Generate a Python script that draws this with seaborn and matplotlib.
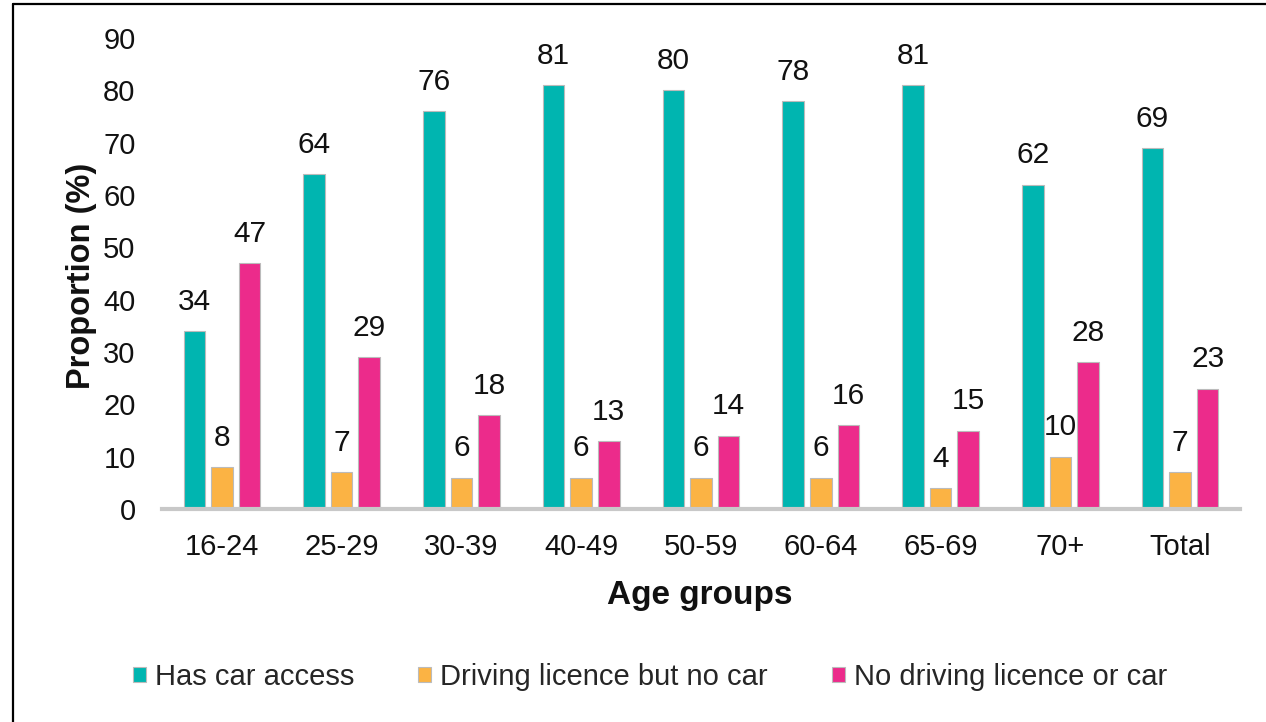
import matplotlib
matplotlib.use("Agg")
import matplotlib.pyplot as plt
import seaborn as sns
import pandas as pd
from matplotlib.patches import Patch
from matplotlib.lines import Line2D

age_groups = ["16-24", "25-29", "30-39", "40-49", "50-59", "60-64", "65-69", "70+", "Total"]
series_names = ["Has car access", "Driving licence but no car", "No driving licence or car"]
has_car = [34, 64, 76, 81, 80, 78, 81, 62, 69]
licence_no_car = [8, 7, 6, 6, 6, 6, 4, 10, 7]
no_licence_no_car = [47, 29, 18, 13, 14, 16, 15, 28, 23]
y_ticks = [0, 10, 20, 30, 40, 50, 60, 70, 80, 90]

colors = ["#00B5B0", "#FBB344", "#EC2B8B"]

rows = []
for name, vals in zip(series_names, [has_car, licence_no_car, no_licence_no_car]):
    for g, v in zip(age_groups, vals):
        rows.append({"Age group": g, "Series": name, "Value": v})
df = pd.DataFrame(rows)

sns.set_theme(style="white")
plt.rcParams["font.family"] = ["Liberation Sans", "DejaVu Sans"]

W, H = 1266, 722
fig = plt.figure(figsize=(W / 100, H / 100), dpi=100)
ax = fig.add_axes([162 / W, 1 - 509 / H, (1240 - 162) / W, (509 - 38) / H])

sns.barplot(data=df, x="Age group", y="Value", hue="Series", order=age_groups,
            hue_order=series_names, palette=colors, saturation=1, width=0.69, gap=0.22,
            edgecolor="#BBBBBB", linewidth=0.8, legend=False, ax=ax)

for container in ax.containers:
    ax.bar_label(container, fmt="%g", padding=11, fontsize=21.5, color="#111111")

ax.set_ylim(0, 90)
ax.set_xlim(-0.5, len(age_groups) - 0.5)
ax.set_yticks(y_ticks)
ax.tick_params(axis="y", labelsize=21, pad=19, length=0, colors="#111111")
ax.tick_params(axis="x", labelsize=21, pad=17, length=0, colors="#111111")
for s in ["top", "right", "left"]:
    ax.spines[s].set_visible(False)
ax.spines["bottom"].set_color("#C8C8C8")
ax.spines["bottom"].set_linewidth(3)
ax.set_facecolor("none")

ax.set_ylabel("Proportion (%)", fontsize=23.5, fontweight="bold", color="#111111")
ax.set_xlabel("Age groups", fontsize=24, fontweight="bold", color="#111111")
ax.yaxis.set_label_coords(-0.06, 0.496)
ax.xaxis.set_label_coords(0.499, -0.15)

handles = [Patch(facecolor=c, edgecolor="#BBBBBB", linewidth=0.8) for c in colors]
fig.legend(handles, series_names, loc="center", bbox_to_anchor=(650 / W, 1 - 677 / H),
           ncol=3, frameon=False, fontsize=21, handlelength=0.45, handleheight=0.45,
           handletextpad=0.3, columnspacing=2.2)

# Frame lines on the left and top of the figure
fig.add_artist(Line2D([12.5 / W, 12.5 / W], [0, 1 - 4 / H], transform=fig.transFigure,
                      color="black", linewidth=1.6))
fig.add_artist(Line2D([12.5 / W, 1], [1 - 4 / H, 1 - 4 / H], transform=fig.transFigure,
                      color="black", linewidth=1.6))

fig.savefig("out.png", dpi=100, facecolor="white")
